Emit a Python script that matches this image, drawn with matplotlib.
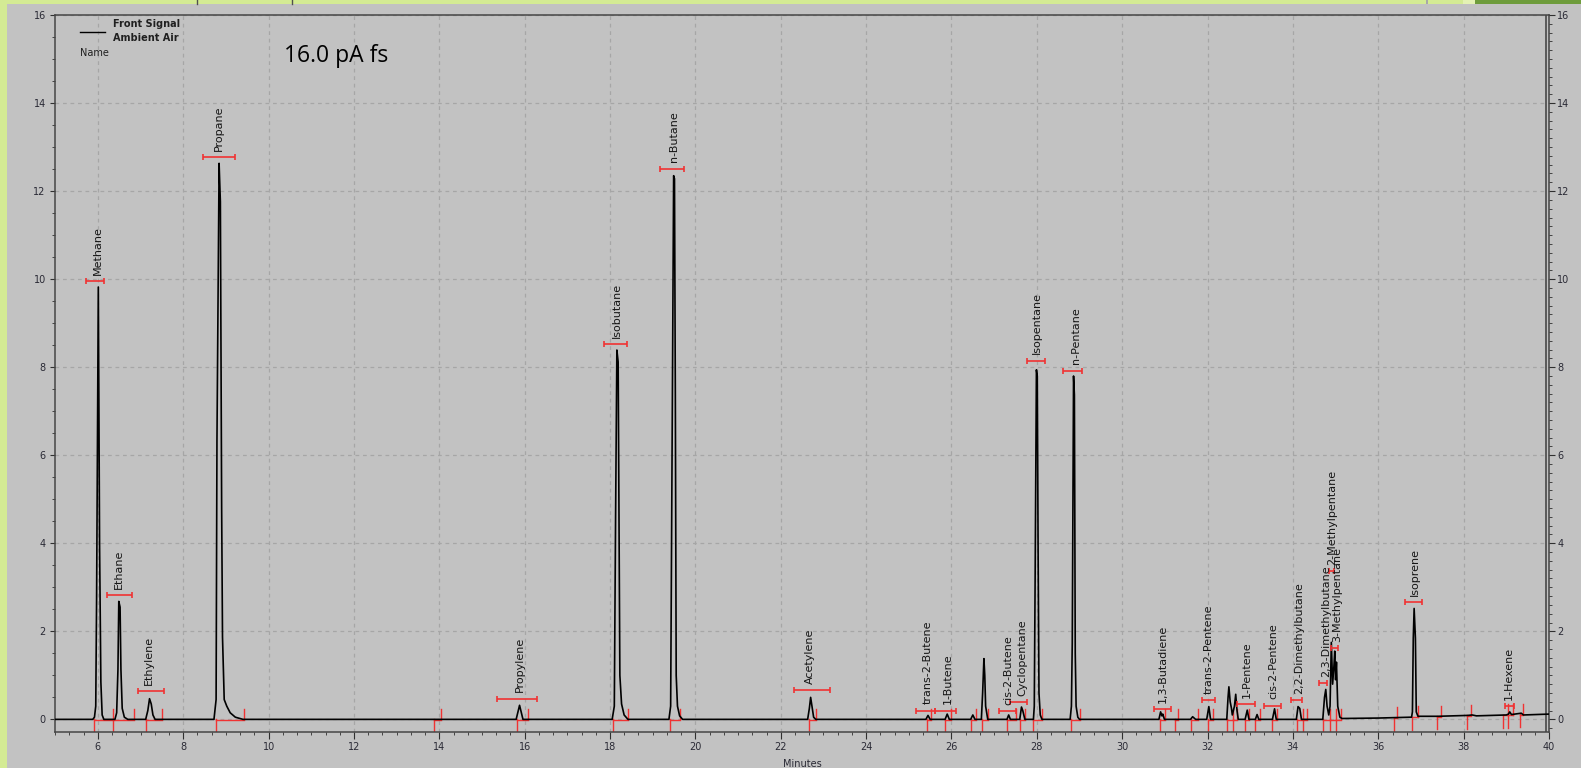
import matplotlib
matplotlib.use("Agg")
import matplotlib.pyplot as plt
from matplotlib.lines import Line2D
from matplotlib.patches import Rectangle
from matplotlib.ticker import MultipleLocator

# chromatogram trace (minutes, pA)
trace_t = [5.00, 5.88, 5.92, 5.95, 5.97, 6.01, 6.04, 6.07, 6.10, 6.14,
           6.40, 6.44, 6.47, 6.49, 6.52, 6.54, 6.57, 6.62, 6.70,
           7.12, 7.17, 7.21, 7.25, 7.29, 7.34,
           8.72, 8.77, 8.79, 8.84, 8.87, 8.90, 8.92, 8.96, 9.02, 9.10, 9.22, 9.40,
           15.80, 15.85, 15.88, 15.91, 15.96,
           18.05, 18.10, 18.13, 18.16, 18.19, 18.21, 18.23, 18.27, 18.33, 18.42,
           19.38, 19.42, 19.46, 19.49, 19.51, 19.53, 19.55, 19.58, 19.63, 19.70,
           22.63, 22.67, 22.70, 22.73, 22.77, 22.82,
           25.40, 25.45, 25.50, 25.85, 25.90, 25.95, 26.45, 26.50, 26.55,
           26.70, 26.73, 26.76, 26.78, 26.80, 26.85,
           27.30, 27.34, 27.38, 27.60, 27.64, 27.67, 27.72,
           27.92, 27.94, 27.96, 27.99, 28.01, 28.03, 28.05, 28.08, 28.12,
           28.78, 28.81, 28.83, 28.86, 28.88, 28.90, 28.92, 28.96, 29.00,
           30.86, 30.90, 30.93, 30.95, 30.99, 31.60, 31.65, 31.72,
           31.98, 32.03, 32.07,
           32.45, 32.48, 32.50, 32.53, 32.56, 32.58, 32.63, 32.66, 32.69, 32.72,
           32.88, 32.93, 32.97, 33.12, 33.16, 33.20, 33.52, 33.57, 33.61,
           34.08, 34.12, 34.16, 34.20,
           34.70, 34.74, 34.77, 34.80, 34.84, 34.87, 34.90, 34.93, 34.96, 34.98,
           35.00, 35.02, 35.05, 35.10, 35.15,
           36.00, 36.40, 36.78, 36.80, 36.82, 36.84, 36.87, 36.89, 36.93,
           37.40, 38.10, 38.20, 38.30, 39.00, 39.05, 39.08, 39.12, 39.35, 39.40, 40.00]
trace_v = [0.00, 0.00, 0.05, 0.30, 2.75, 9.82, 3.92, 0.85, 0.10, 0.00,
           0.00, 0.15, 1.13, 2.68, 2.55, 1.13, 0.25, 0.05, 0.00,
           0.00, 0.20, 0.47, 0.35, 0.10, 0.00,
           0.00, 0.45, 6.34, 12.63, 11.76, 4.79, 1.87, 0.45, 0.30, 0.15, 0.05, 0.00,
           0.00, 0.20, 0.32, 0.20, 0.00,
           0.00, 0.30, 4.60, 8.39, 8.12, 4.50, 1.00, 0.35, 0.10, 0.00,
           0.00, 0.30, 7.40, 12.35, 12.28, 7.35, 1.00, 0.30, 0.08, 0.00,
           0.00, 0.25, 0.50, 0.30, 0.05, 0.00,
           0.00, 0.09, 0.00, 0.00, 0.12, 0.00, 0.00, 0.10, 0.00,
           0.00, 0.60, 1.38, 1.00, 0.30, 0.00,
           0.00, 0.10, 0.00, 0.00, 0.28, 0.20, 0.00,
           0.00, 0.30, 3.20, 7.94, 7.80, 3.80, 0.60, 0.10, 0.00,
           0.00, 0.30, 1.73, 7.80, 7.37, 1.50, 0.30, 0.05, 0.00,
           0.00, 0.17, 0.08, 0.12, 0.00, 0.00, 0.06, 0.00,
           0.00, 0.29, 0.00,
           0.00, 0.50, 0.74, 0.40, 0.25, 0.10, 0.30, 0.57, 0.20, 0.00,
           0.00, 0.21, 0.00, 0.00, 0.11, 0.00, 0.00, 0.24, 0.00,
           0.00, 0.29, 0.25, 0.00,
           0.00, 0.50, 0.68, 0.30, 0.10, 0.30, 1.75, 0.80, 1.20, 1.55,
           0.90, 1.30, 0.30, 0.05, 0.02,
           0.03, 0.04, 0.05, 0.17, 1.84, 2.52, 1.84, 0.17, 0.07,
           0.07, 0.09, 0.10, 0.08, 0.10, 0.12, 0.17, 0.11, 0.14, 0.10, 0.12]

# named peaks: label position (apex time), red window bar (start, end, level)
peak_names = ["Methane", "Ethane", "Ethylene", "Propane", "Propylene", "Isobutane",
              "n-Butane", "Acetylene", "trans-2-Butene", "1-Butene", "cis-2-Butene",
              "Cyclopentane", "Isopentane", "n-Pentane", "1,3-Butadiene",
              "trans-2-Pentene", "1-Pentene", "cis-2-Pentene", "2,2-Dimethylbutane",
              "2,3-Dimethylbutane", "2-Methylpentane", "3-Methylpentane",
              "Isoprene", "1-Hexene"]
peak_rt = [6.01, 6.50, 7.20, 8.84, 15.88, 18.16, 19.49, 22.69, 25.45, 25.92, 27.34,
           27.66, 27.99, 28.91, 30.95, 32.03, 32.93, 33.55, 34.15, 34.77, 34.92,
           35.03, 36.86, 39.06]
bar_start = [5.72, 6.21, 6.93, 8.47, 15.36, 17.85, 19.16, 22.31, 25.18, 25.61, 27.12,
             27.38, 27.78, 28.62, 30.74, 31.86, 32.69, 33.32, 33.96, 34.61, 34.85,
             34.90, 36.62, 38.97]
bar_end = [6.15, 6.81, 7.54, 9.22, 16.30, 18.40, 19.74, 23.15, 25.61, 26.11, 27.50,
           27.77, 28.20, 29.05, 31.15, 32.17, 33.10, 33.73, 34.22, 34.81, 34.97,
           35.05, 37.03, 39.18]
bar_level = [9.96, 2.83, 0.64, 12.78, 0.47, 8.52, 12.51, 0.66, 0.20, 0.20, 0.18,
             0.39, 8.15, 7.92, 0.23, 0.44, 0.34, 0.31, 0.44, 0.83, 3.36,
             1.61, 2.67, 0.30]

# integration events (peak start, peak end, baseline level)
int_start = [5.90, 6.36, 7.13, 8.76, 13.87, 15.82, 18.08, 19.40, 22.66, 25.42, 25.85,
             26.46, 26.72, 27.30, 27.61, 27.92, 28.80, 30.88, 31.24, 31.62, 32.00,
             32.46, 32.60, 32.87, 33.10, 33.52, 34.09, 34.24, 34.70, 34.87, 35.00,
             36.37, 36.80, 37.37, 38.09, 38.92, 39.05, 39.32]
int_end = [6.36, 6.84, 7.50, 9.42, 14.04, 16.08, 18.43, 19.65, 22.83, 25.53, 26.00,
           26.57, 26.85, 27.51, 27.73, 28.12, 29.00, 31.00, 31.31, 31.77, 32.13,
           32.60, 32.70, 32.97, 33.22, 33.62, 34.24, 34.34, 34.87, 35.00, 35.13,
           36.45, 36.93, 37.46, 38.17, 39.05, 39.16, 39.40]
int_base = [0, 0, 0, 0, 0, 0, 0, 0, 0, 0, 0,
            0, 0, 0, 0, 0, 0, 0, 0, 0, 0,
            0, 0, 0, 0, 0, 0, 0, 0, 0, 0,
            0.04, 0.06, 0.07, 0.09, 0.10, 0.10, 0.12]

bg = '#c2c2c2'
red = '#f03232'
ink = '#2a2a35'

fig = plt.figure(figsize=(15.81, 7.68), dpi=100, facecolor=bg)
W, H = 1581, 768
ax = fig.add_axes([55.2 / W, (H - 731.7) / H, (1549 - 55.2) / W, (731.7 - 15) / H])
ax.set_facecolor(bg)

# red integration marks
for s, e, b in zip(int_start, int_end, int_base):
    ax.plot([s, s], [b, b - 0.3], color=red, lw=1.0, zorder=2)
    ax.plot([e, e], [b, b + 0.24], color=red, lw=1.0, zorder=2)
    ax.plot([s, e], [b - 0.01, b - 0.01], color=red, lw=1.0, zorder=2)

ax.plot(trace_t, trace_v, color='black', lw=1.2, zorder=3)

# window bars and names
for name, rt, s, e, lv in zip(peak_names, peak_rt, bar_start, bar_end, bar_level):
    ax.errorbar((s + e) / 2, lv, xerr=(e - s) / 2, fmt='none', ecolor=red,
                elinewidth=1.2, capsize=2.4, capthick=1.2, zorder=4)
    ax.annotate(name, (rt, lv), xytext=(0, 4.5), textcoords='offset points',
                rotation=90, ha='center', va='bottom', fontsize=8,
                color='#151515', zorder=5)

ax.set_xlim(5, 40)
ax.set_ylim(-0.28, 16)
ax.xaxis.set_major_locator(MultipleLocator(2))
ax.xaxis.set_minor_locator(MultipleLocator(1 / 3))
ax.yaxis.set_major_locator(MultipleLocator(2))
ax.yaxis.set_minor_locator(MultipleLocator(0.5))
ax.grid(True, which='major', color='#a6a6a6', lw=0.9, ls=(0, (3, 3)))
ax.set_axisbelow(True)
ax.tick_params(which='both', direction='out', colors='#303030', labelsize=7,
               labelcolor=ink)
ax.tick_params(axis='x', which='major', length=4.8, pad=2.5)
ax.tick_params(axis='x', which='minor', length=2.4)
ax.tick_params(axis='y', which='major', length=3.8, pad=3)
ax.tick_params(axis='y', which='minor', length=2.2)
for sp in ax.spines.values():
    sp.set_color('#454545')
    sp.set_linewidth(1.1)
ax.set_xlabel('Minutes', fontsize=7, color=ink, labelpad=5)

ax2 = ax.twinx()
ax2.set_ylim(-0.28, 16)
ax2.yaxis.set_major_locator(MultipleLocator(2))
ax2.yaxis.set_minor_locator(MultipleLocator(0.2))
ax2.tick_params(which='both', direction='out', colors='#303030', labelsize=7,
                labelcolor=ink)
ax2.tick_params(which='major', length=4.5, pad=1.5)
ax2.tick_params(which='minor', length=2.4)
for sp in ax2.spines.values():
    sp.set_visible(False)
ax.axvline(39.93, color='#5a5a5a', lw=1.4, zorder=1)

# window frame strips
fig.add_artist(Rectangle((0, 0), 7 / W, 1, transform=fig.transFigure,
                         color='#d4eb94', lw=0))
fig.add_artist(Rectangle((0, 1 - 4 / H), 1, 4 / H, transform=fig.transFigure,
                         color='#d4eb94', lw=0))
fig.add_artist(Rectangle((1463 / W, 1 - 4 / H), 12 / W, 4 / H,
                         transform=fig.transFigure, color='#e4f2b4', lw=0))
fig.add_artist(Rectangle((1475 / W, 1 - 4 / H), 106 / W, 4 / H,
                         transform=fig.transFigure, color='#6e9c3c', lw=0))
fig.add_artist(Rectangle((1426 / W, 1 - 4 / H), 2 / W, 4 / H,
                         transform=fig.transFigure, color='#a8a8a8', lw=0))
for xp in (197, 292):
    fig.add_artist(Line2D([xp / W, xp / W], [1, 1 - 4 / H],
                          transform=fig.transFigure, color='#505050', lw=1))

# header texts
fig.add_artist(Line2D([80 / W, 105 / W], [1 - 32 / H, 1 - 32 / H],
                      transform=fig.transFigure, color='black', lw=1))
fig.text(113 / W, 1 - 24 / H, 'Front Signal', fontsize=7, fontweight='bold',
         color='#202020', va='center')
fig.text(113 / W, 1 - 38 / H, 'Ambient Air', fontsize=7, fontweight='bold',
         color='#202020', va='center')
fig.text(80 / W, 1 - 53 / H, 'Name', fontsize=7, color='#202020', va='center')
fig.text(284 / W, 1 - 56 / H, '16.0 pA fs', fontsize=16.5, family='Open Sans',
         color='black', va='center')

fig.savefig('out.png', dpi=100, facecolor=fig.get_facecolor())
